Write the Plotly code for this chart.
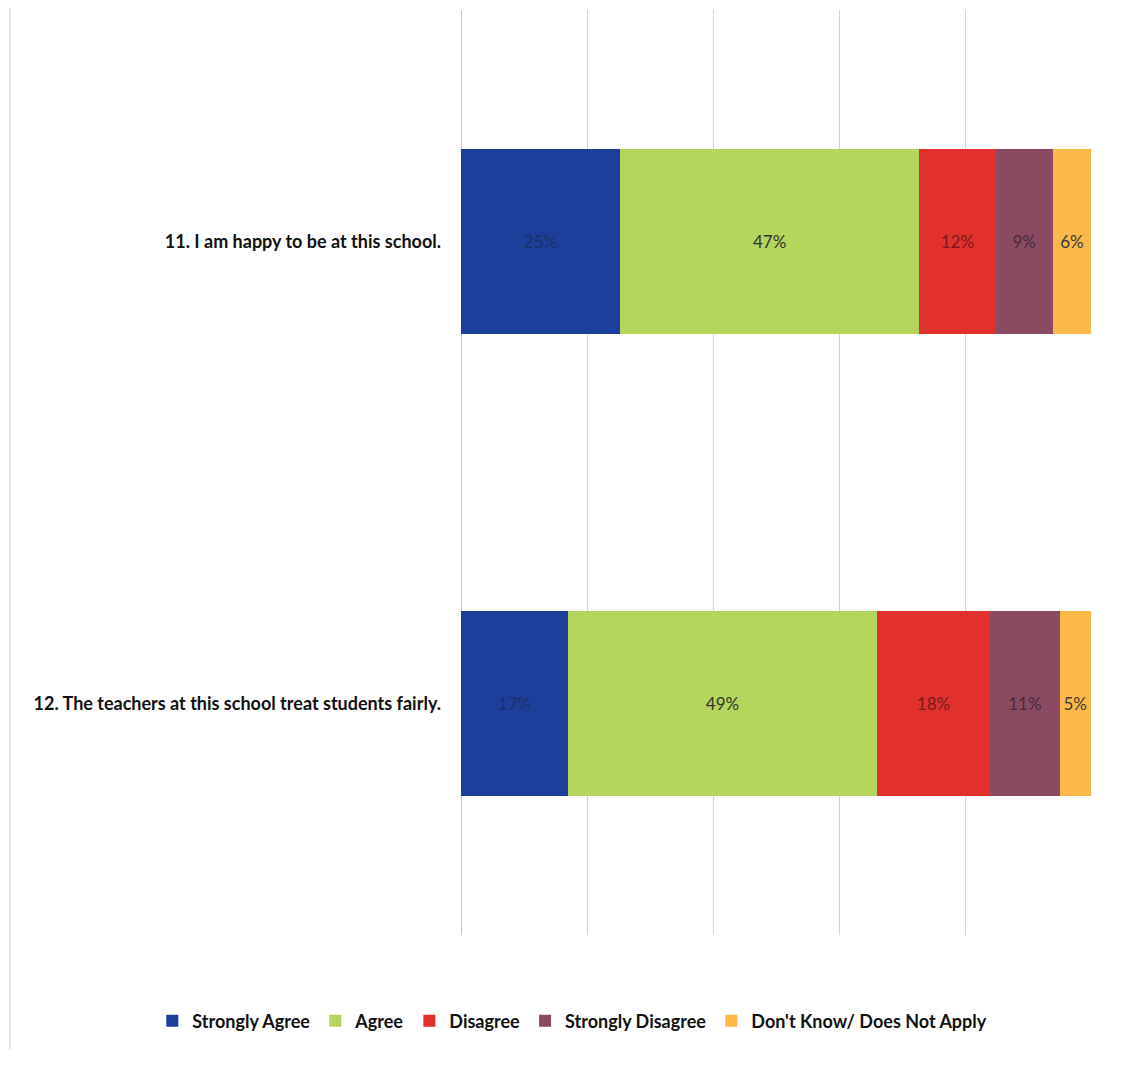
import plotly.graph_objects as go

questions = ["11. I am happy to be at this school.",
             "12. The teachers at this school treat students fairly."]
series_names = ["Strongly Agree", "Agree", "Disagree", "Strongly Disagree",
                "Don't Know/ Does Not Apply"]
strongly_agree = [25, 17]
agree = [47, 49]
disagree = [12, 18]
strongly_disagree = [9, 11]
dont_know = [6, 5]
values = [strongly_agree, agree, disagree, strongly_disagree, dont_know]

colors = ["#1c3f9c", "#b4d65c", "#e2312d", "#8a4a62", "#fdb84a"]
text_colors = ["#1e2f6a", "#333333", "#7a1a1a", "#4a2a38", "#3a3a3a"]

fig = go.Figure()
for name, vals, c, tc in zip(series_names, values, colors, text_colors):
    fig.add_trace(go.Bar(
        y=questions, x=vals, name=name, orientation="h",
        marker=dict(color=c, line=dict(width=0)),
        text=[f"{v}%" for v in vals], textposition="inside",
        insidetextanchor="middle", textangle=0,
        textfont=dict(size=17, color=tc, family="Lato"),
        hoverinfo="skip",
    ))

fig.update_layout(
    width=1143, height=1078,
    barmode="stack", barnorm="percent", bargap=0.6,
    paper_bgcolor="white", plot_bgcolor="white",
    margin=dict(l=453, r=60, t=2, b=151),
    font=dict(family="Lato", color="#111111"),
    legend=dict(orientation="h", xref="paper", yref="paper",
                x=-0.49, xanchor="left", y=-0.093, yanchor="middle",
                font=dict(size=18, family="Lato", color="#111111", weight="bold"),
                itemwidth=30, traceorder="normal", itemsizing="constant"),
    shapes=[dict(type="line", xref="paper", yref="paper", x0=-0.716, x1=-0.716,
                 y0=-0.124, y1=1.01, line=dict(color="#dddddd", width=1.5))],
)
fig.update_xaxes(range=[0, 100], dtick=20, showticklabels=False,
                 showgrid=True, gridcolor="#d4d4d4", gridwidth=1,
                 zeroline=True, zerolinecolor="#c8c8c8", zerolinewidth=1,
                 fixedrange=True)
fig.update_yaxes(autorange="reversed", showgrid=False, ticks="",
                 ticklabelstandoff=19,
                 tickfont=dict(size=18, family="Lato", color="#111111", weight="bold"))

fig.write_html("out.html")
